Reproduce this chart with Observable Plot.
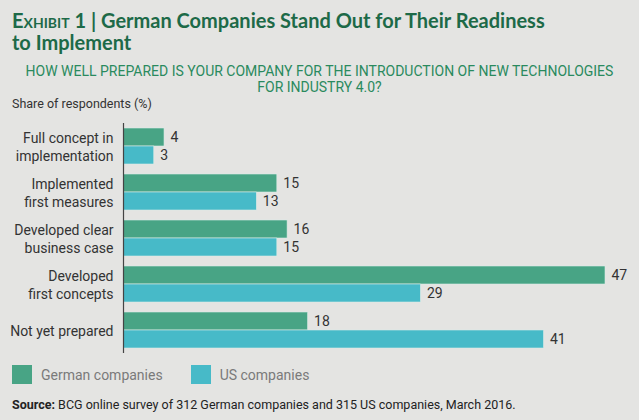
<!DOCTYPE html>
<html>
<head>
<meta charset="utf-8">
<script src="https://cdn.jsdelivr.net/npm/d3@7"></script>
<script src="https://cdn.jsdelivr.net/npm/@observablehq/plot@0.6"></script>
<style>
  html, body { margin: 0; padding: 0; background: #e4e4e2; }
  #wrap { position: relative; width: 639px; height: 420px; background: #e4e4e2; overflow: hidden; font-family: Roboto, sans-serif; }
  #title { position: absolute; left: 12px; top: 9px; width: 620px; font-family: Lato, sans-serif; font-weight: 700; font-size: 20px; line-height: 22px; color: #1d6a48; }
  #title .ex { font-variant: small-caps; }
  #subtitle { position: absolute; left: 0; top: 63px; width: 639px; text-align: center; font-size: 14px; line-height: 16px; color: #2a8a5e; }
  #share { position: absolute; left: 12px; top: 96px; font-size: 12.5px; line-height: 15px; color: #333; }
  #chart { position: absolute; left: 0; top: 118px; }
  #legend { position: absolute; left: 12px; top: 365px; font-size: 14px; color: #7a7a7a; display: flex; align-items: center; }
  #legend .sw { display: inline-block; width: 20px; height: 19px; margin-right: 9px; }
  #legend .item { display: flex; align-items: center; margin-right: 28px; }
  #source { position: absolute; left: 12px; top: 397px; font-size: 12.5px; line-height: 15px; color: #222; }
</style>
</head>
<body>
<div id="wrap">
  <div id="title"><span class="ex">Exhibit 1</span> | German Companies Stand Out for Their Readiness<br>to Implement</div>
  <div id="subtitle">HOW WELL PREPARED IS YOUR COMPANY FOR THE INTRODUCTION OF NEW TECHNOLOGIES<br>FOR INDUSTRY 4.0?</div>
  <div id="share">Share of respondents (%)</div>
  <div id="chart"></div>
  <div id="legend"></div>
  <div id="source"><b>Source:</b> BCG online survey of 312 German companies and 315 US companies, March 2016.</div>
</div>
<script>
const categories = [
  "Full concept in\nimplementation",
  "Implemented\nfirst measures",
  "Developed clear\nbusiness case",
  "Developed\nfirst concepts",
  "Not yet prepared"
];
const seriesNames = ["German companies", "US companies"];
const germanValues = [4, 15, 16, 47, 18];
const usValues = [3, 13, 15, 29, 41];
const seriesColors = ["#48a485", "#47bac8"];

const data = [];
categories.forEach((c, i) => {
  data.push({category: c, series: seriesNames[0], value: germanValues[i]});
  data.push({category: c, series: seriesNames[1], value: usValues[i]});
});

const chart = Plot.plot({
  width: 639,
  height: 236,
  marginLeft: 123,
  marginRight: 34,
  marginTop: 0,
  marginBottom: 0,
  style: {background: "transparent", fontFamily: "Roboto, sans-serif"},
  x: {domain: [0, 47], axis: null},
  y: {domain: seriesNames, padding: 0, axis: null},
  fy: {domain: categories, paddingInner: 10/46, paddingOuter: 8/46, align: 0.625, label: null},
  color: {domain: seriesNames, range: seriesColors},
  marks: [
    Plot.barX(data, {fy: "category", y: "series", x: "value", fill: "series", stroke: "#d9ece6", strokeWidth: 0.6}),
    Plot.text(data, {fy: "category", y: "series", x: "value", text: d => String(d.value), textAnchor: "start", dx: 6, fontSize: 14, fill: "#333"}),
    Plot.axisFy({anchor: "left", tickSize: 0, tickPadding: 10, fontSize: 14, lineHeight: 1.3, color: "#333", label: null}),
    Plot.ruleX([0], {stroke: "#444", strokeWidth: 1.2, insetTop: -5, insetBottom: -5})
  ]
});
document.getElementById("chart").appendChild(chart);

const legend = document.getElementById("legend");
seriesNames.forEach((s, i) => {
  const item = document.createElement("div");
  item.className = "item";
  const sw = document.createElement("span");
  sw.className = "sw";
  sw.style.background = seriesColors[i];
  item.appendChild(sw);
  item.appendChild(document.createTextNode(s));
  legend.appendChild(item);
});
</script>
</body>
</html>
